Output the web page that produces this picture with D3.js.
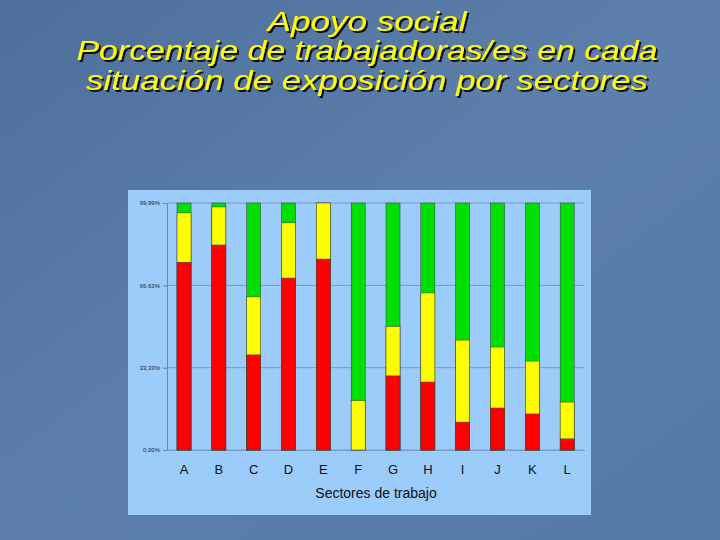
<!DOCTYPE html>
<html><head><meta charset="utf-8">
<script src="https://cdn.jsdelivr.net/npm/d3@7"></script>
<style>body{margin:0;overflow:hidden}</style>
</head><body><svg></svg>
<script>
// data
var sectors = ['A','B','C','D','E','F','G','H','I','J','K','L'];
var red    = [76, 83, 38.5, 69.6, 77.3, 0, 30, 27.5, 11.3, 17, 14.6, 4.5];
var yellow = [20, 15.4, 23.5, 22.4, 22.7, 20, 20, 36.1, 33.2, 24.7, 21.4, 14.9];
var tickVals = [0, 33.33, 66.63, 99.99];
var tickLabels = ['0,00%', '33,33%', '66,63%', '99,99%'];
var titleLines = ['Apoyo social', 'Porcentaje de trabajadoras/es en cada', 'situación de exposición por sectores'];

var width = 720, height = 540;
var svg = d3.select('svg').attr('width', width).attr('height', height);
var defs = svg.append('defs');
var grad = defs.append('linearGradient').attr('id','bg').attr('x1',0).attr('y1',0).attr('x2',1).attr('y2',1);
grad.append('stop').attr('offset','0%').attr('stop-color','#4d6f9c');
grad.append('stop').attr('offset','50%').attr('stop-color','#5c7fab');
grad.append('stop').attr('offset','100%').attr('stop-color','#557aa6');
svg.append('rect').attr('width',width).attr('height',height).attr('fill','url(#bg)');
var sh = defs.append('filter').attr('id','sh');
sh.append('feDropShadow').attr('dx',2).attr('dy',2).attr('stdDeviation',0.6).attr('flood-color','#111');

// title
var title = svg.append('g').attr('filter','url(#sh)');
var tpos = [[31, 199], [60, 581], [90, 562]];
titleLines.forEach(function(t, i){
	title.append('text').attr('x',367).attr('y',tpos[i][0]).attr('text-anchor','middle')
		.attr('font-family','Liberation Sans, Arial').attr('font-size',28).attr('font-style','italic')
		.attr('textLength',tpos[i][1]).attr('lengthAdjust','spacingAndGlyphs')
		.attr('fill','#ffff00').text(t);
});

// chart panel
svg.append('rect').attr('x',128).attr('y',190).attr('width',463).attr('height',325).attr('fill','#9cccfa');

var x = d3.scaleBand().domain(sectors).range([166.6, 584.6]);
var y = d3.scaleLinear().domain([0, 100]).range([450, 203]);

var chartG = svg.append('g');
chartG.selectAll('.grid').data(tickVals).enter().append('line')
	.attr('x1',167).attr('x2',584).attr('y1',function(d){return y(d);}).attr('y2',function(d){return y(d);})
	.attr('stroke','#7a9cc4').attr('stroke-width',1);

var yAxis = chartG.append('g').attr('transform','translate(167,0)')
	.call(d3.axisLeft(y).tickValues(tickVals).tickSize(4).tickFormat(function(d,i){return tickLabels[i];}));
yAxis.select('.domain').attr('stroke','#6688aa');
yAxis.selectAll('line').attr('stroke','#6688aa');
yAxis.selectAll('text').attr('font-size',6).attr('font-family','Liberation Sans, Arial').attr('fill','#223');

var xAxis = chartG.append('g').attr('transform','translate(0,450)')
	.call(d3.axisBottom(x).tickSize(0).tickPadding(15));
xAxis.select('.domain').attr('stroke','#7a9cc4');
xAxis.selectAll('text').attr('font-size',13).attr('font-family','Liberation Sans, Arial').attr('fill','#111');

var bw = 14;
var bars = chartG.selectAll('.bar').data(sectors).enter().append('g');
bars.append('rect').attr('x',function(d){return x(d)+x.bandwidth()/2-bw/2;}).attr('width',bw)
	.attr('y',y(100)).attr('height',y(0)-y(100)).attr('fill','#00e000').attr('stroke','#333').attr('stroke-width',0.5);
bars.append('rect').attr('x',function(d){return x(d)+x.bandwidth()/2-bw/2;}).attr('width',bw)
	.attr('y',function(d,i){return y(red[i]+yellow[i]);}).attr('height',function(d,i){return y(0)-y(red[i]+yellow[i]);})
	.attr('fill','#ffff00').attr('stroke','#333').attr('stroke-width',0.5);
bars.append('rect').attr('x',function(d){return x(d)+x.bandwidth()/2-bw/2;}).attr('width',bw)
	.attr('y',function(d,i){return y(red[i]);}).attr('height',function(d,i){return y(0)-y(red[i]);})
	.attr('fill','#ff0000').attr('stroke','#333').attr('stroke-width',0.5);

svg.append('text').attr('x',376).attr('y',498).attr('text-anchor','middle')
	.attr('font-family','Liberation Sans, Arial').attr('font-size',14).attr('fill','#111').text('Sectores de trabajo');
</script></body></html>
